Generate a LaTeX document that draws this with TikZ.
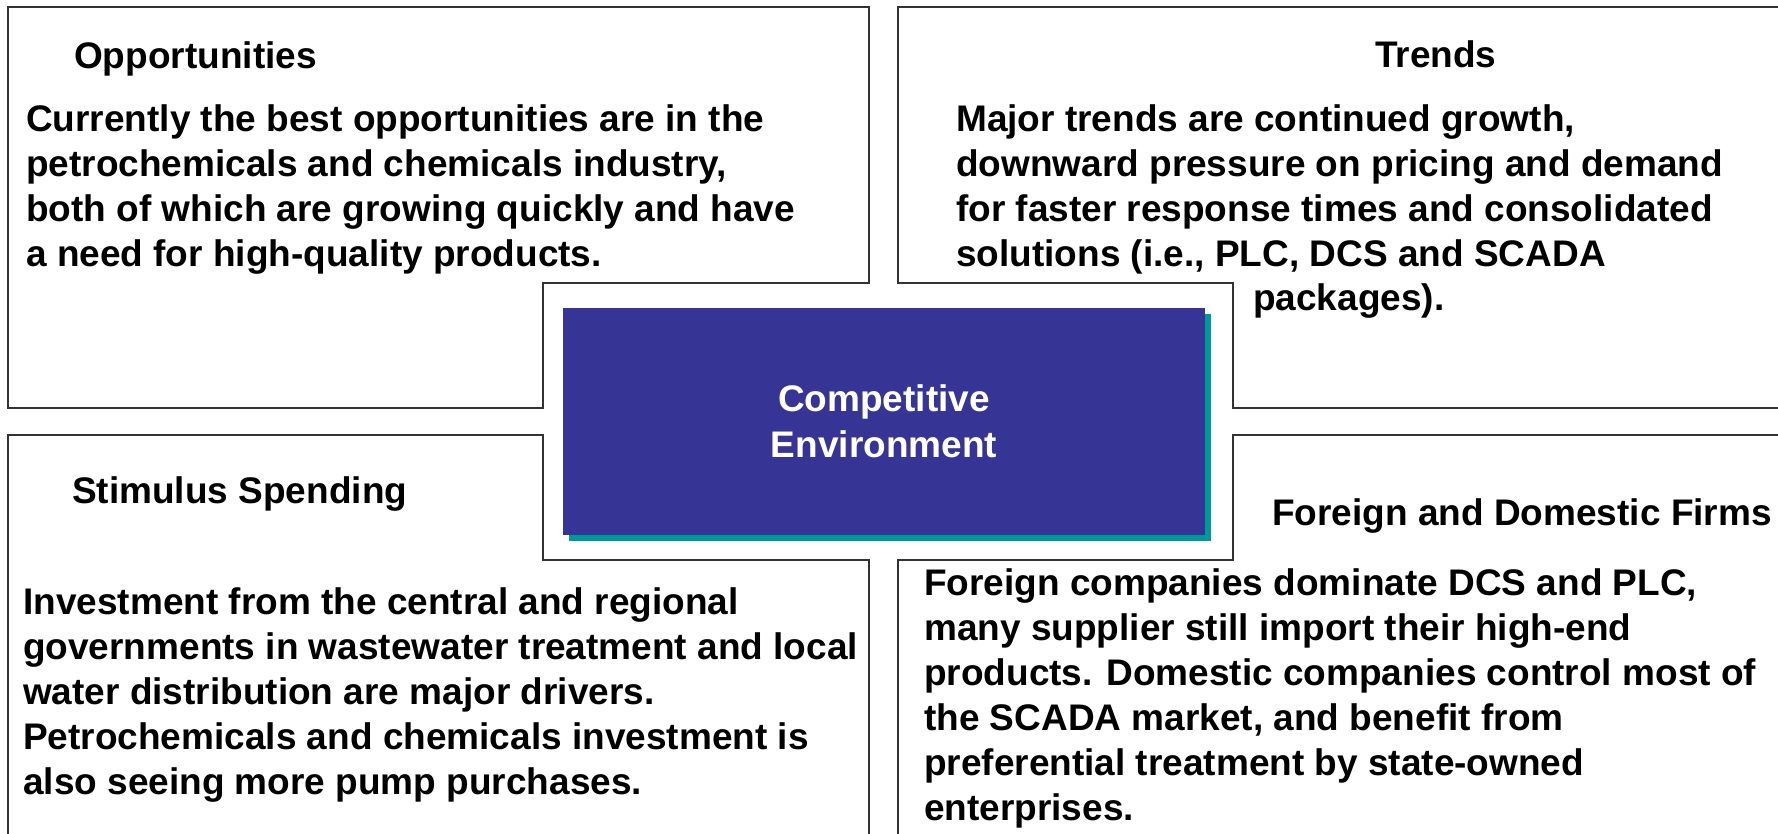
\documentclass[tikz,border=0pt]{standalone}
\usepackage{fontspec}
\setmainfont{Liberation Sans}
\definecolor{envblue}{HTML}{363596}
\definecolor{envteal}{HTML}{009999}
\definecolor{edgegray}{HTML}{333333}
\tikzset{
  panel/.style={draw=edgegray, line width=1.6pt},
  head/.style={anchor=base west, inner sep=0pt, font=\fontsize{37}{45}\selectfont\bfseries},
  % multi-line text: anchored at the baseline of its last line
  body/.style={anchor=base west, inner sep=0pt, align=left, font=\fontsize{37}{45}\selectfont\bfseries}
}
\begin{document}
\begin{tikzpicture}[x=1pt, y=-1pt]
\useasboundingbox (0,0) rectangle (1778,834);
\clip (0,0) rectangle (1778,834);

% four panels
\draw [panel] (8,7) -- (869,7) -- (869,283) -- (543,283) -- (543,408) -- (8,408) -- cycle;
\draw [panel] (898,7) -- (1800,7) -- (1800,408) -- (1233,408) -- (1233,283) -- (898,283) -- cycle;
\draw [panel] (8,435) -- (543,435) -- (543,560) -- (869,560) -- (869,860) -- (8,860) -- cycle;
\draw [panel] (1233,435) -- (1800,435) -- (1800,860) -- (898,860) -- (898,560) -- (1233,560) -- cycle;

% centre box
\fill [envteal] (569,314) rectangle (1211,541);
\fill [envblue] (563,308) rectangle (1205,535);
\node (env) [align=center, text=white, inner sep=0pt, font=\fontsize{37}{46}\selectfont\bfseries] at (884,421.5) {Competitive\\Environment};

\node (opp) [head] at (74,69) {Opportunities};
\node (oppText) [body] at (26,267) {Currently the best opportunities are in the\\
petrochemicals and chemicals industry,\\
both of which are growing quickly and have\\
a need for high-quality products.};

\node (trends) [head] at (1375,68) {Trends};
\node (trendsText) [body] at (956,267) {Major trends are continued growth,\\
downward pressure on pricing and demand\\
for faster response times and consolidated\\
solutions (i.e., PLC, DCS and SCADA};
\node (trendsEnd) [head] at (1253,311) {packages).};

\node (stim) [head] at (72,503) {Stimulus Spending};
\node (stimText) [body] at (23,794) {Investment from the central and regional\\
governments in wastewater treatment and local\\
water distribution are major drivers.\\
Petrochemicals and chemicals investment is\\
also seeing more pump purchases.};

\node (firms) [head] at (1272,525) {Foreign and Domestic Firms};
\node (firmsText) [body] at (924,820) {Foreign companies dominate DCS and PLC,\\
many supplier still import their high-end\\
products. Domestic companies control most of\\
the SCADA market, and benefit from\\
preferential treatment by state-owned\\
enterprises.};
\end{tikzpicture}
\end{document}
